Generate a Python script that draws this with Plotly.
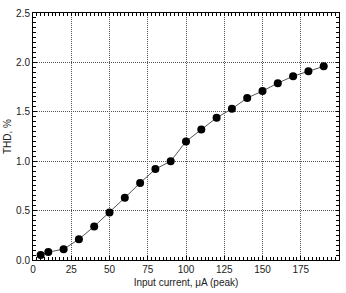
import plotly.graph_objects as go

current_uA = [5, 10, 20, 30, 40, 50, 60, 70, 80, 90, 100, 110, 120, 130, 140, 150, 160, 170, 180, 190]
thd_pct = [0.05, 0.08, 0.11, 0.21, 0.34, 0.48, 0.63, 0.78, 0.92, 1.0, 1.2, 1.32, 1.44, 1.53, 1.64, 1.71, 1.79, 1.86, 1.91, 1.96]

x_ticks = [0, 25, 50, 75, 100, 125, 150, 175, 200]
y_ticks = [0.0, 0.5, 1.0, 1.5, 2.0, 2.5]
x_range = [0, 200]
y_range = [0, 2.5]
x_minor_step = 2.5
y_minor_step = 0.05

fig = go.Figure()
fig.add_trace(go.Scatter(
    x=current_uA, y=thd_pct, mode="lines+markers",
    line=dict(color="#555555", width=1),
    marker=dict(color="black", size=8),
    showlegend=False,
))
fig.add_trace(go.Scatter(x=current_uA, y=thd_pct, xaxis="x2", yaxis="y2",
                         mode="markers", marker=dict(opacity=0), showlegend=False,
                         hoverinfo="skip"))

font = dict(family="Liberation Sans, Arial, sans-serif", size=10, color="#222222")
grid = dict(showgrid=True, gridcolor="#555555", griddash="1px,1px", gridwidth=1)
base = dict(showline=True, linecolor="black", linewidth=1,
            ticks="inside", ticklen=4, tickcolor="black", zeroline=False, tickfont=font)

x_minor_vals = [x_range[0] + i * x_minor_step for i in range(int(round((x_range[1] - x_range[0]) / x_minor_step)) + 1)]
y_minor_vals = [round(y_range[0] + i * y_minor_step, 4) for i in range(int(round((y_range[1] - y_range[0]) / y_minor_step)) + 1)]

fig.update_layout(
    width=346, height=293,
    margin=dict(l=27, r=7, t=8, b=31),
    paper_bgcolor="white", plot_bgcolor="white",
    font=font,
    xaxis=dict(range=x_range, tickvals=x_ticks, ticktext=[str(v) for v in x_ticks],
               minor=dict(dtick=x_minor_step, ticks="inside", ticklen=3, tickcolor="black", showgrid=False),
               title=dict(text="Input current, μA (peak)", font=font, standoff=4),
               **grid, **base),
    yaxis=dict(range=y_range, tickvals=y_ticks, ticktext=[f"{v:.1f}" for v in y_ticks],
               minor=dict(dtick=y_minor_step, ticks="inside", ticklen=3, tickcolor="black", showgrid=False),
               title=dict(text="THD, %", font=font, standoff=2),
               **grid, **base),
    xaxis2=dict(range=x_range, overlaying="x", side="top", anchor="y",
                tickmode="array", tickvals=x_minor_vals, showticklabels=False, showgrid=False,
                showline=True, linecolor="black", linewidth=1,
                ticks="inside", ticklen=3, tickcolor="black", zeroline=False),
    yaxis2=dict(range=y_range, overlaying="y", side="right", anchor="x",
                tickmode="array", tickvals=y_minor_vals, showticklabels=False, showgrid=False,
                showline=True, linecolor="black", linewidth=1,
                ticks="inside", ticklen=3, tickcolor="black", zeroline=False),
)
fig.write_html("out.html")
